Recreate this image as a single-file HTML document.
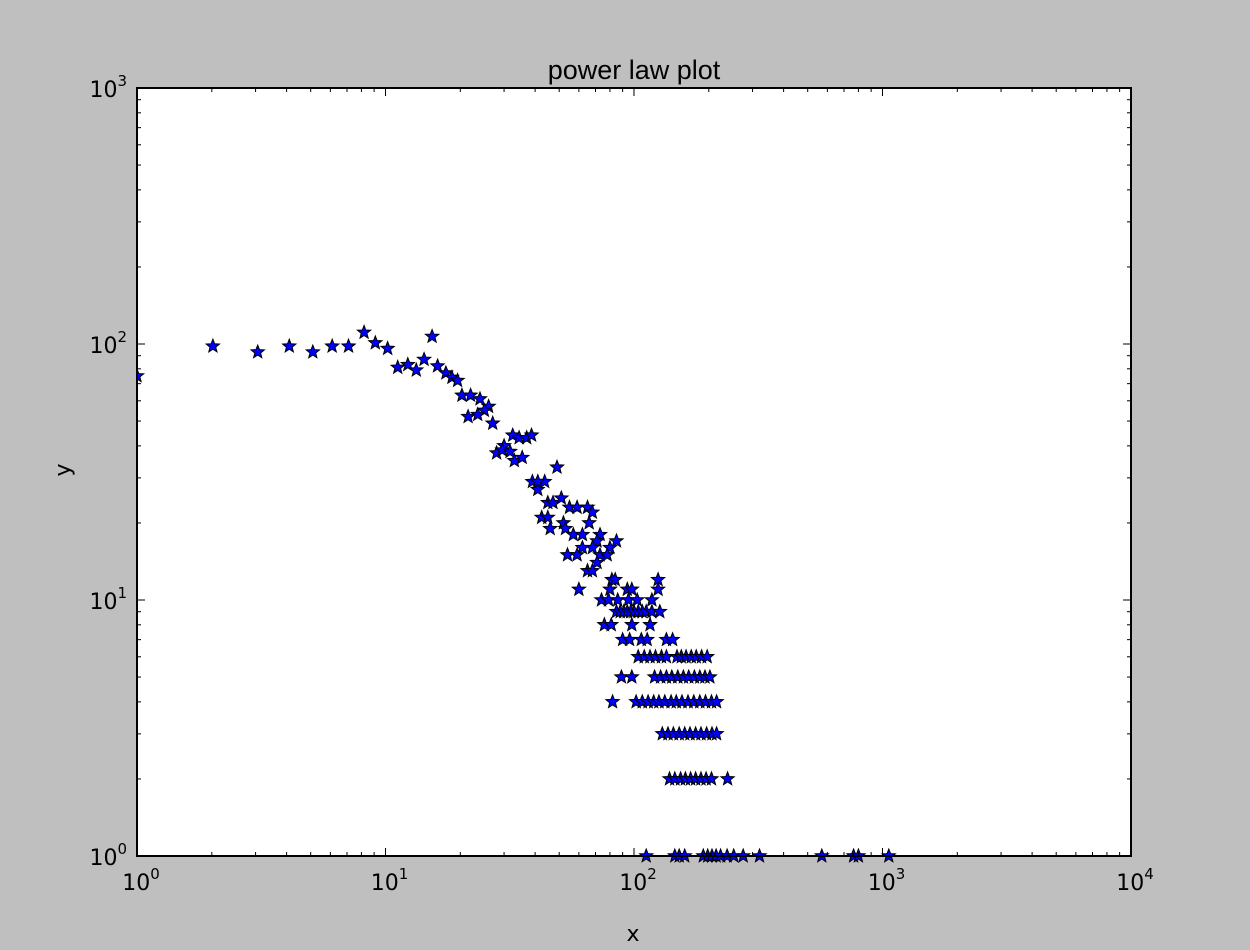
<!DOCTYPE html>
<html><head><meta charset="utf-8"><style>
html,body{margin:0;padding:0;background:#bfbfbf;}
svg{display:block;font-family:"DejaVu Sans","Liberation Sans",sans-serif;}
</style></head><body>
<svg id="chart" width="1250" height="950" viewBox="0 0 1250 950" xmlns="http://www.w3.org/2000/svg">
<rect x="0" y="0" width="1250" height="950" fill="#bfbfbf"/>
<rect x="137" y="88" width="994" height="768" fill="#ffffff"/>
<g id="marks"></g>
<g id="ticks"></g>
<rect x="137" y="88" width="994" height="768" fill="none" stroke="#000" stroke-width="2"/>
<text x="634" y="79" font-size="27" font-family="Liberation Sans, sans-serif" text-anchor="middle">power law plot</text>
<text x="633" y="941" font-size="22" text-anchor="middle">x</text>
<text x="70" y="470" font-size="22" text-anchor="middle" transform="rotate(-90 70 470)">y</text>
<g id="labels"></g>
</svg>
<script>
const xs = [1,2.02,3.06,4.1,5.1,6.1,7.1,8.2,9.1,10.2,11.2,12.3,13.3,14.3,15.4,16.2,17.5,18.5,19.5,
20.3,22,24,26,25,21.5,23.5,27,32.5,34.5,37,38.7,28,30,29.5,31.7,33,35.5,39,41,43.7,45,
47.2,51,55,59,65,68,42.5,45,52,66,46,53,57,62,73,71,85,68,62,80,54,59,73,78,71,65,68,49,41,
81.5,84,125,60,80,94,98,125,
74,79,86,95,103,118,
85,88,91,94,97,100,104,108,112,118,127,
76,81,98,116,
90,96,107,113,135,143,
104,110,116,122,129,135,149,155,162,170,178,187,197,
89,98,121,128,135,142,150,158,166,175,184,193,202,
82,102,108,114,120,126,133,141,148,156,165,174,184,194,205,215,
130,137,144,152,160,168,177,186,196,206,215,
139,146,154,161,169,177,186,195,205,238,
112,146,152,160,190,198,206,214,223,237,252,275,320,570,765,800,1060];
const ys = [75,98,93,98,93,98,98,111,101,96,81,83,79,87,107,82,77,74,72,
63,63,61,57,55,52,53,49,44,43,43,44,37.5,40,38.5,38,35,36,29,27,29,24,
24,25,23,23,23,22,21,21,20,20,19,19,18,18,18,17,17,16,16,16,15,15,15,15,14,13,13,33,29,
12,12,12,11,11,11,11,11,
10,10,10,10,10,10,
9,9,9,9,9,9,9,9,9,9,9,
8,8,8,8,
7,7,7,7,7,7,
6,6,6,6,6,6,6,6,6,6,6,6,6,
5,5,5,5,5,5,5,5,5,5,5,5,5,
4,4,4,4,4,4,4,4,4,4,4,4,4,4,4,4,
3,3,3,3,3,3,3,3,3,3,3,
2,2,2,2,2,2,2,2,2,2,
1,1,1,1,1,1,1,1,1,1,1,1,1,1,1,1,1];
const xDecades = [0,1,2,3,4];
const yDecades = [0,1,2,3];
const L=137,R=1131,T=88,B=856;
const X=v=>L+(Math.log10(v)-0)/4*(R-L);
const Y=v=>B-(Math.log10(v)-0)/3*(B-T);
const NS="http://www.w3.org/2000/svg";
const marks=document.getElementById('marks');
const cp=document.createElementNS(NS,'clipPath');cp.setAttribute('id','clip');
const cr=document.createElementNS(NS,'rect');cr.setAttribute('x',L);cr.setAttribute('y',T-10);cr.setAttribute('width',R-L);cr.setAttribute('height',B-T+20);
cp.appendChild(cr);document.getElementById('chart').appendChild(cp);
marks.setAttribute('clip-path','url(#clip)');
function starPts(cx,cy,ro,ri){let p=[];for(let i=0;i<10;i++){const r=i%2?ri:ro;const a=-Math.PI/2+i*Math.PI/5;p.push((cx+r*Math.cos(a)).toFixed(1)+','+(cy+r*Math.sin(a)).toFixed(1));}return p.join(' ');}
for(let i=0;i<xs.length;i++){
  const s=document.createElementNS(NS,'polygon');
  s.setAttribute('points',starPts(X(xs[i]),Y(ys[i]),7,3));
  s.setAttribute('fill','#0000ff');s.setAttribute('stroke','#000');s.setAttribute('stroke-width','1');
  
  
  marks.appendChild(s);
}
const tk=document.getElementById('ticks');
function line(x1,y1,x2,y2){const l=document.createElementNS(NS,'line');l.setAttribute('x1',x1);l.setAttribute('y1',y1);l.setAttribute('x2',x2);l.setAttribute('y2',y2);l.setAttribute('stroke','#000');l.setAttribute('stroke-width','1');tk.appendChild(l);}
for(const d of xDecades){const x=X(Math.pow(10,d));line(x,B,x,B-8);line(x,T,x,T+8);
  if(d<4)for(let m=2;m<10;m++){const xm=X(m*Math.pow(10,d));line(xm,B,xm,B-4);line(xm,T,xm,T+4);}}
for(const d of yDecades){const y=Y(Math.pow(10,d));line(L,y,L+8,y);line(R,y,R-8,y);
  if(d<3)for(let m=2;m<10;m++){const ym=Y(m*Math.pow(10,d));line(L,ym,L+4,ym);line(R,ym,R-4,ym);}}
const lb=document.getElementById('labels');
function lab(x,y,d,anchor){const t=document.createElementNS(NS,'text');t.setAttribute('x',x);t.setAttribute('y',y);t.setAttribute('font-size','22');t.setAttribute('text-anchor',anchor);
  
  
  t.innerHTML='10<tspan font-size="15" dy="-11">'+d+'</tspan>';lb.appendChild(t);}
for(const d of xDecades)lab(X(Math.pow(10,d))+4,B+34,d,'middle');
for(const d of yDecades)lab(L-10,Y(Math.pow(10,d))+9,d,'end');
</script>
</body></html>
